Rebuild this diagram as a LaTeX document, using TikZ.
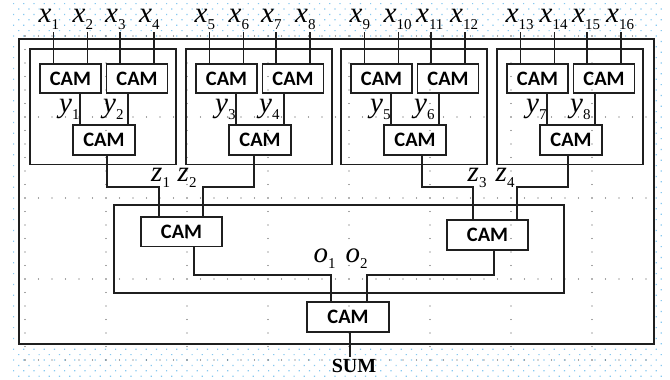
\documentclass[tikz,border=0pt]{standalone}
\usepackage{fontspec}
\setmainfont{Liberation Serif}
\newfontfamily\camfont{Carlito}
\usetikzlibrary{calc}

\definecolor{linec}{gray}{0.12}
\definecolor{gridblue}{RGB}{135,200,240}
\definecolor{griddot}{gray}{0.3}

% italic letter with a lowered digit; the node's origin sits where the letter ends
\newcommand\vlab[3]{\llap{\fontsize{29}{29}\selectfont\itshape #1}\rlap{\raisebox{-#3pt}{\fontsize{15}{15}\selectfont #2}}}

\tikzset{
  cam/.style={draw=linec, line width=1.1pt, inner sep=0pt,
    font=\camfont\bfseries\fontsize{20.5}{20.5}\selectfont,
    minimum width=61pt, minimum height=29pt},
  frame/.style={draw=linec, line width=1.1pt},
  wire/.style={draw=linec, line width=1.1pt},
  lab/.style={inner sep=0pt, anchor=base}
}

\begin{document}
\begin{tikzpicture}[x=1pt, y=-1pt]
\useasboundingbox (0,0) rectangle (670,380);
\fill[white] (0,0) rectangle (670,380);

% page-margin dot pattern
\foreach \r in {0,...,69} {
  \pgfmathsetmacro\yy{3+\r*5.4}
  \pgfmathsetmacro\off{mod(\r,2)*5.1}
  \fill[gridblue] \foreach \c in {0,...,63} {(13+\off+\c*10.2,\yy) rectangle ++(1.2,1.2)};
}
\fill[white] (19,39) rectangle (654,344);

% drawing grid
\foreach \gy in {36,117,198,279,360}
  \fill[griddot] \foreach \k in {0,...,46} {(25+\k*13.5,\gy) circle[radius=0.65]};
\foreach \gx in {25,106,187,268,349,430,511,592}
  \fill[griddot] \foreach \k in {0,...,24} {(\gx,36+\k*13.5) circle[radius=0.65]};

% outer frame
\draw[frame] (19,39) rectangle (654,344);

% four first-level groups
\foreach \g/\L/\d in {1/30/3, 2/186/-6, 3/341/7, 4/497/-3} {
  \draw[frame] (\L,49) rectangle (\L+146,164.5);
  \node[cam] (a\g) at (\L+40.5,78.5) {CAM};
  \node[cam] (b\g) at (\L+107,78.5) {CAM};
  \node[cam, minimum width=62pt, minimum height=30pt] (c\g) at (\L+74,140) {CAM};
  % inputs
  \foreach \k/\dx/\bx in {1/23.5/a, 2/57.5/a, 3/90/b, 4/124/b} {
    \pgfmathtruncatemacro\n{4*(\g-1)+\k}
    \pgfmathsetmacro\px{\L+\dx}
    \coordinate (in\n) at (\px,32);
    \draw[wire] (in\n) -- (in\n |- \bx\g.north);
    \node[lab] (xl\n) at (\px-2,23) {\vlab{x}{\n}{6}};
  }
  % second-level signals
  \pgfmathtruncatemacro\ya{2*\g-1}
  \pgfmathtruncatemacro\yb{2*\g}
  \coordinate (ya\g) at ([xshift=-24pt]c\g.north);
  \coordinate (yb\g) at ([xshift=24pt]c\g.north);
  \draw[wire] (ya\g) -- (ya\g |- a\g.south);
  \draw[wire] (yb\g) -- (yb\g |- b\g.south);
  \node[lab] (yl\ya) at (\L+42,112) {\vlab{y}{\ya}{7}};
  \node[lab] (yl\yb) at (\L+86,112) {\vlab{y}{\yb}{7}};
  \coordinate (out\g) at ([xshift=\d pt]c\g.south);
}

% second-level frame and blocks
\draw[frame] (114,205) rectangle (564,293);
\node[cam, minimum width=81pt, minimum height=29.5pt] (ml) at (181.5,231.75) {CAM};
\node[cam, minimum width=81pt, minimum height=30pt] (mr) at (487.5,235) {CAM};

\coordinate (tz1) at ([xshift=-22.5pt]ml.north);
\coordinate (tz2) at ([xshift=21.5pt]ml.north);
\coordinate (tz3) at ([xshift=-14.5pt]mr.north);
\coordinate (tz4) at ([xshift=29.5pt]mr.north);
\foreach \g in {1,...,4}
  \draw[wire] (out\g) -- (out\g |- 0,187) -| (tz\g);

\node[lab] (zl1) at (162.5,181) {\vlab{z}{1}{6}};
\node[lab] (zl2) at (189,181) {\vlab{z}{2}{6}};
\node[lab] (zl3) at (479,181) {\vlab{z}{3}{6}};
\node[lab] (zl4) at (507,181) {\vlab{z}{4}{6}};

% final block
\node[cam, minimum width=82pt, minimum height=30pt] (fin) at (348,317) {CAM};
\coordinate (om1) at ([xshift=12.5pt]ml.south);
\coordinate (om2) at ([xshift=6.5pt]mr.south);
\coordinate (tb1) at ([xshift=-17pt]fin.north);
\coordinate (tb2) at ([xshift=19pt]fin.north);
\draw[wire] (om1) -- (om1 |- 0,275) -| (tb1);
\draw[wire] (om2) -- (om2 |- 0,275) -| (tb2);
\node[lab] (ol1) at (328,262) {\vlab{o}{1}{6}};
\node[lab] (ol2) at (360,262) {\vlab{o}{2}{6}};

\node[lab, inner sep=1.5pt, font=\bfseries\fontsize{20}{20}\selectfont] (sum) at (354,372) {SUM};
\coordinate (so) at ([xshift=2pt]fin.south);
\draw[wire] (so) -- (so |- sum.north);
\end{tikzpicture}
\end{document}
